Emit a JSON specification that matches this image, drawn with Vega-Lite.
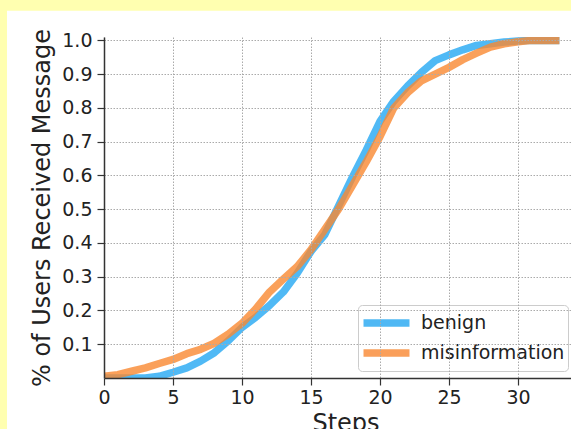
{
  "$schema": "https://vega.github.io/schema/vega-lite/v6.json",
  "width": 483,
  "height": 341,
  "autosize": {"type": "none"},
  "padding": {"left": 104, "top": 37, "right": 0, "bottom": 51},
  "background": "#ffffb0",
  "config": {
    "view": {"stroke": null},
    "font": "DejaVu Sans",
    "axis": {
      "labelFont": "DejaVu Sans",
      "titleFont": "DejaVu Sans",
      "labelFontSize": 19,
      "titleFontSize": 24,
      "titleFontWeight": "normal",
      "labelColor": "#222222",
      "titleColor": "#222222",
      "domainColor": "#333333",
      "domainWidth": 1.5,
      "tickColor": "#333333",
      "tickWidth": 1.2,
      "tickSize": 7,
      "gridColor": "#aaaaaa",
      "gridWidth": 1,
      "gridDash": [1.5, 1.5],
      "labelOverlap": false,
      "labelFlush": false
    }
  },
  "datasets": {
    "spread": [
      {"step": 0, "group": "benign", "share": 0.0},
      {"step": 1, "group": "benign", "share": 0.0},
      {"step": 2, "group": "benign", "share": 0.0},
      {"step": 3, "group": "benign", "share": 0.0},
      {"step": 4, "group": "benign", "share": 0.005},
      {"step": 5, "group": "benign", "share": 0.017},
      {"step": 6, "group": "benign", "share": 0.03},
      {"step": 7, "group": "benign", "share": 0.05},
      {"step": 8, "group": "benign", "share": 0.075},
      {"step": 9, "group": "benign", "share": 0.11},
      {"step": 10, "group": "benign", "share": 0.15},
      {"step": 11, "group": "benign", "share": 0.18},
      {"step": 12, "group": "benign", "share": 0.215},
      {"step": 13, "group": "benign", "share": 0.255},
      {"step": 14, "group": "benign", "share": 0.31},
      {"step": 15, "group": "benign", "share": 0.375},
      {"step": 16, "group": "benign", "share": 0.425},
      {"step": 17, "group": "benign", "share": 0.51},
      {"step": 18, "group": "benign", "share": 0.595},
      {"step": 19, "group": "benign", "share": 0.675},
      {"step": 20, "group": "benign", "share": 0.76},
      {"step": 21, "group": "benign", "share": 0.82},
      {"step": 22, "group": "benign", "share": 0.865},
      {"step": 23, "group": "benign", "share": 0.905},
      {"step": 24, "group": "benign", "share": 0.94},
      {"step": 25, "group": "benign", "share": 0.957},
      {"step": 26, "group": "benign", "share": 0.972},
      {"step": 27, "group": "benign", "share": 0.985},
      {"step": 28, "group": "benign", "share": 0.99},
      {"step": 29, "group": "benign", "share": 0.995},
      {"step": 30, "group": "benign", "share": 0.998},
      {"step": 31, "group": "benign", "share": 1.0},
      {"step": 32, "group": "benign", "share": 1.0},
      {"step": 33, "group": "benign", "share": 1.0},
      {"step": 0, "group": "misinformation", "share": 0.005},
      {"step": 1, "group": "misinformation", "share": 0.01},
      {"step": 2, "group": "misinformation", "share": 0.02},
      {"step": 3, "group": "misinformation", "share": 0.03},
      {"step": 4, "group": "misinformation", "share": 0.043},
      {"step": 5, "group": "misinformation", "share": 0.055},
      {"step": 6, "group": "misinformation", "share": 0.072},
      {"step": 7, "group": "misinformation", "share": 0.085},
      {"step": 8, "group": "misinformation", "share": 0.103},
      {"step": 9, "group": "misinformation", "share": 0.13},
      {"step": 10, "group": "misinformation", "share": 0.162},
      {"step": 11, "group": "misinformation", "share": 0.205},
      {"step": 12, "group": "misinformation", "share": 0.255},
      {"step": 13, "group": "misinformation", "share": 0.293},
      {"step": 14, "group": "misinformation", "share": 0.33},
      {"step": 15, "group": "misinformation", "share": 0.38},
      {"step": 16, "group": "misinformation", "share": 0.44},
      {"step": 17, "group": "misinformation", "share": 0.5},
      {"step": 18, "group": "misinformation", "share": 0.57},
      {"step": 19, "group": "misinformation", "share": 0.64},
      {"step": 20, "group": "misinformation", "share": 0.715},
      {"step": 21, "group": "misinformation", "share": 0.8},
      {"step": 22, "group": "misinformation", "share": 0.845},
      {"step": 23, "group": "misinformation", "share": 0.88},
      {"step": 24, "group": "misinformation", "share": 0.9},
      {"step": 25, "group": "misinformation", "share": 0.92},
      {"step": 26, "group": "misinformation", "share": 0.943},
      {"step": 27, "group": "misinformation", "share": 0.962},
      {"step": 28, "group": "misinformation", "share": 0.98},
      {"step": 29, "group": "misinformation", "share": 0.99},
      {"step": 30, "group": "misinformation", "share": 0.996},
      {"step": 31, "group": "misinformation", "share": 1.0},
      {"step": 32, "group": "misinformation", "share": 1.0},
      {"step": 33, "group": "misinformation", "share": 1.0}
    ]
  },
  "layer": [
    {
      "data": {"values": [{"panel": "figure"}]},
      "mark": {"type": "rect", "fill": "white", "clip": false},
      "encoding": {
        "x": {"datum": -7.03, "type": "quantitative"},
        "x2": {"datum": 40},
        "y": {"datum": 1.0874, "type": "quantitative"},
        "y2": {"datum": -0.3}
      }
    },
    {
      "data": {"name": "spread"},
      "mark": {"type": "line", "strokeWidth": 7.5, "opacity": 0.8, "clip": true, "strokeJoin": "round"},
      "encoding": {
        "x": {
          "field": "step",
          "type": "quantitative",
          "scale": {"domain": [0, 35], "nice": false, "zero": false},
          "axis": {
            "title": "Steps",
            "values": [0, 5, 10, 15, 20, 25, 30],
            "labelPadding": 3,
            "titlePadding": 4,
            "grid": true,
            "zindex": 1
          }
        },
        "y": {
          "field": "share",
          "type": "quantitative",
          "scale": {"domain": [0, 1.01], "nice": false, "zero": false},
          "axis": {
            "title": "% of Users Received Message",
            "values": [0.1, 0.2, 0.3, 0.4, 0.5, 0.6, 0.7, 0.8, 0.9, 1.0],
            "tickCount": 10,
            "format": ".1f",
            "labelOverlap": false,
            "labelBound": false,
            "labelPadding": 5,
            "titlePadding": 7,
            "grid": true,
            "zindex": 1
          }
        },
        "color": {
          "field": "group",
          "type": "nominal",
          "scale": {"domain": ["benign", "misinformation"], "range": ["#24a7f2", "#f98831"]},
          "legend": {
            "title": null,
            "orient": "none",
            "legendX": 254,
            "legendY": 268,
            "symbolType": "M-2.09,0H2.09",
            "symbolSize": 484,
            "symbolStrokeWidth": 7.5,
            "symbolOpacity": 0.8,
            "symbolOffset": 10.5,
            "labelFont": "DejaVu Sans",
            "labelFontSize": 19,
            "labelColor": "#222222",
            "labelOffset": 19.5,
            "rowPadding": 0,
            "padding": 3,
            "strokeColor": "#cccccc",
            "fillColor": "rgba(255,255,255,0.8)",
            "cornerRadius": 4
          }
        }
      }
    }
  ]
}
